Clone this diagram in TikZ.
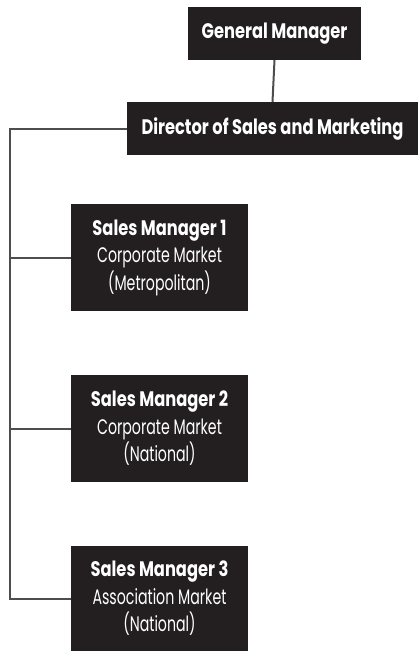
\documentclass[tikz,border=0pt]{standalone}
\usepackage{fontspec}
\setmainfont[UprightFeatures={FakeStretch=0.675},BoldFeatures={FakeStretch=0.775}]{Poppins}
\definecolor{boxfill}{HTML}{231F20}
\definecolor{linegray}{HTML}{4D4D4D}
\begin{document}
\begin{tikzpicture}[x=1pt,y=-1pt,
  box/.style={fill=boxfill,text=white,inner sep=0pt,align=center,font=\fontsize{21}{27.5}\selectfont},
  conn/.style={draw=linegray,line width=2pt}]
\useasboundingbox (0,0) rectangle (418,651);
\node[box,minimum width=173,minimum height=53] (gm) at (274.5,33.5) {\bfseries General Manager};
\node[box,minimum width=291,minimum height=53] (dir) at (272.5,128.5) {\bfseries Director of Sales and Marketing};
\node[box,minimum width=177,minimum height=107] (sm1) at (159.5,257.5) {{\bfseries Sales Manager 1}\\Corporate Market\\(Metropolitan)};
\node[box,minimum width=177,minimum height=107] (sm2) at (159.5,428.5) {{\bfseries Sales Manager 2}\\Corporate Market\\(National)};
\node[box,minimum width=177,minimum height=105] (sm3) at (159.5,598.5) {{\bfseries Sales Manager 3}\\Association Market\\(National)};
\coordinate (spine) at (10,0);
\draw[conn] (gm.south) -- (dir.north);
\draw[conn] (dir.west) -| (sm3.west -| spine) -- (sm3.west);
\draw[conn] (sm1.west -| spine) -- (sm1.west);
\draw[conn] (sm2.west -| spine) -- (sm2.west);
\end{tikzpicture}
\end{document}
